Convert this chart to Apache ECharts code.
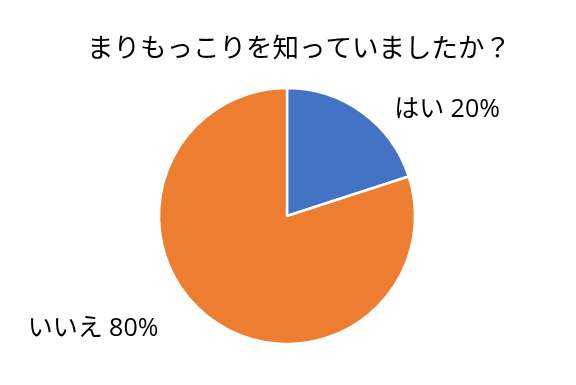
<!DOCTYPE html>
<html><head><meta charset="utf-8">
<script src="https://cdn.jsdelivr.net/npm/echarts@6/dist/echarts.min.js"></script>
<style>html,body{margin:0;padding:0;background:#fff}#c{width:576px;height:385px}</style>
</head><body><div id="c"></div>
<script>
const titleText = 'まりもっこりを知っていましたか？';
const categories = ['はい', 'いいえ'];
const values = [20, 80];
const colors = ['#4472C4', '#ED7D31'];
const labelPos = [[447, 110], [93, 329]];

const chart = echarts.init(document.getElementById('c'), null, {renderer: 'canvas'});
chart.setOption({
  backgroundColor: '#fff',
  animation: false,
  title: {
    text: titleText, left: 82, top: 31,
    textStyle: {fontFamily: '"Open Sans", "Noto Sans CJK JP"', fontSize: 26.5, fontWeight: 'normal', color: '#000'}
  },
  series: [{
    type: 'pie',
    center: [287, 216],
    radius: 128,
    startAngle: 90,
    clockwise: true,
    itemStyle: {borderColor: '#fff', borderWidth: 2.5},
    label: {
      show: true, position: 'outside',
      formatter: p => p.name + ' ' + p.value + '%',
      fontFamily: '"Open Sans", "Noto Sans CJK JP"', fontSize: 25, color: '#000'
    },
    labelLine: {show: false},
    labelLayout: p => ({x: labelPos[p.dataIndex][0], y: labelPos[p.dataIndex][1], align: 'center', verticalAlign: 'middle'}),
    data: categories.map((c, i) => ({name: c, value: values[i], itemStyle: {color: colors[i]}}))
  }]
});
</script></body></html>
